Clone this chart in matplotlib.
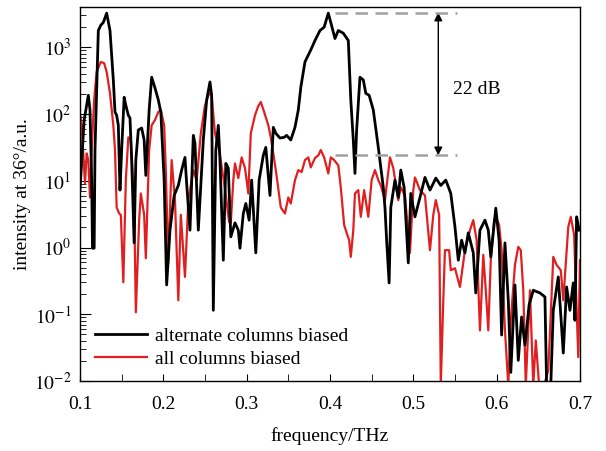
import matplotlib
matplotlib.use("Agg")
import matplotlib.pyplot as plt
import numpy as np
from matplotlib.ticker import MultipleLocator, LogLocator, NullFormatter

plt.rcParams['font.family'] = ['Liberation Serif', 'DejaVu Serif']
plt.rcParams['mathtext.fontset'] = 'stix'

# frequency (THz) and log10(intensity) of "alternate columns biased"
black_freq = [0.100, 0.105, 0.110, 0.112, 0.114, 0.115, 0.117, 0.118, 0.122, 0.125, 0.128, 0.132,
              0.136, 0.140, 0.142, 0.144, 0.146, 0.148, 0.150, 0.153, 0.155, 0.158, 0.160, 0.162,
              0.165, 0.167, 0.170, 0.174, 0.177, 0.179, 0.183, 0.186, 0.190, 0.194, 0.197, 0.201,
              0.204, 0.208, 0.213, 0.218, 0.222, 0.226, 0.228, 0.232, 0.236, 0.238, 0.242, 0.244,
              0.248, 0.252, 0.256, 0.258, 0.260, 0.263, 0.266, 0.268, 0.272, 0.275, 0.278, 0.281,
              0.286, 0.290, 0.292, 0.296, 0.299, 0.303, 0.306, 0.311, 0.315, 0.320, 0.323, 0.328,
              0.332, 0.335, 0.340, 0.345, 0.348, 0.353, 0.358, 0.362, 0.365, 0.370, 0.377, 0.382,
              0.388, 0.393, 0.398, 0.401, 0.406, 0.410, 0.416, 0.422, 0.425, 0.428, 0.430, 0.432,
              0.436, 0.440, 0.443, 0.447, 0.452, 0.458, 0.464, 0.466, 0.468, 0.471, 0.473, 0.478,
              0.482, 0.485, 0.489, 0.494, 0.497, 0.502, 0.508, 0.514, 0.520, 0.524, 0.527, 0.533,
              0.539, 0.545, 0.550, 0.554, 0.558, 0.562, 0.566, 0.572, 0.575, 0.580, 0.586, 0.590,
              0.593, 0.599, 0.603, 0.606, 0.610, 0.614, 0.617, 0.622, 0.626, 0.630, 0.634, 0.639,
              0.644, 0.652, 0.658, 0.660, 0.665, 0.668, 0.674, 0.680, 0.684, 0.688, 0.692, 0.694,
              0.696, 0.699]
black_log = [0.86, 1.91, 2.28, 2.06, 1.01, -0.01, -0.01, 1.46, 3.25, 3.33, 3.37, 3.51,
             3.25, 2.51, 2.03, 1.98, 1.83, 0.86, 1.46, 2.25, 2.13, 1.98, 1.94, 1.31,
             0.07, 1.31, 1.76, 1.79, 1.61, 1.08, 2.06, 2.55, 2.39, 2.21, 2.03, 1.01,
             -0.56, 0.26, 0.78, 0.93, 1.16, 1.35, 0.96, 0.26, 1.68, 1.56, 0.26, 0.71,
             1.61, 2.21, 2.48, 2.28, -0.94, 1.46, 1.83, 1.31, -0.19, 1.26, 1.19, 0.16,
             0.37, 0.26, -0.01, 0.51, 0.66, 0.41, 1.01, -0.08, 1.01, 1.38, 1.50, 0.78,
             1.80, 1.71, 1.64, 1.65, 1.68, 1.61, 1.80, 2.06, 2.40, 2.78, 2.96, 3.10,
             3.25, 3.30, 3.51, 3.37, 3.13, 3.25, 3.21, 3.10, 2.21, 1.61, 1.11, 1.76,
             2.55, 2.51, 2.31, 2.28, 2.06, 1.50, 0.90, 0.60, 0.11, -0.53, 0.60, 1.01,
             0.75, 1.16, 0.90, -0.23, 0.81, 0.46, 0.75, 1.05, 0.86, 0.96, 1.04, 0.93,
             1.01, 0.81, 0.31, -0.19, 0.11, -0.08, 0.22, -0.08, -0.68, 0.26, 0.41, 0.26,
             -0.14, 0.59, 0.11, -1.31, 0.07, -0.79, -1.87, -0.56, -1.69, -1.04, -1.46, -0.86,
             -0.64, -0.68, -0.74, -2.06, -2.06, -0.94, -0.44, -1.58, -0.59, -0.94, -0.53, -1.09,
             0.46, 0.26]

# frequency (THz) and log10(intensity) of "all columns biased"
red_freq = [0.100, 0.102, 0.105, 0.106, 0.108, 0.110, 0.112, 0.114, 0.117, 0.120, 0.125, 0.129,
            0.132, 0.136, 0.140, 0.142, 0.144, 0.147, 0.149, 0.152, 0.155, 0.158, 0.161, 0.165,
            0.167, 0.171, 0.173, 0.177, 0.179, 0.183, 0.186, 0.190, 0.194, 0.197, 0.201, 0.203,
            0.206, 0.210, 0.214, 0.218, 0.221, 0.226, 0.230, 0.236, 0.240, 0.245, 0.250, 0.255,
            0.258, 0.262, 0.267, 0.272, 0.275, 0.279, 0.281, 0.284, 0.286, 0.290, 0.294, 0.298,
            0.302, 0.305, 0.310, 0.314, 0.317, 0.321, 0.326, 0.329, 0.335, 0.341, 0.346, 0.350,
            0.353, 0.358, 0.362, 0.366, 0.370, 0.374, 0.377, 0.382, 0.386, 0.389, 0.393, 0.398,
            0.401, 0.405, 0.410, 0.413, 0.417, 0.420, 0.423, 0.425, 0.428, 0.430, 0.434, 0.437,
            0.441, 0.446, 0.450, 0.454, 0.458, 0.461, 0.466, 0.472, 0.476, 0.482, 0.485, 0.490,
            0.496, 0.500, 0.502, 0.508, 0.514, 0.520, 0.524, 0.527, 0.531, 0.533, 0.536, 0.538,
            0.543, 0.545, 0.550, 0.556, 0.562, 0.568, 0.572, 0.576, 0.580, 0.584, 0.587, 0.590,
            0.593, 0.597, 0.599, 0.603, 0.606, 0.610, 0.614, 0.617, 0.622, 0.626, 0.629, 0.632,
            0.635, 0.640, 0.644, 0.647, 0.651, 0.657, 0.662, 0.668, 0.672, 0.677, 0.680, 0.686,
            0.689, 0.693, 0.698, 0.700]
red_log = [2.01, 1.83, 1.16, 0.96, 1.41, 1.31, 0.75, 1.46, 2.21, 2.63, 2.78, 2.76,
           2.63, 2.31, 1.83, 1.46, 0.60, 0.51, 0.49, -0.52, 1.01, 1.65, 1.61, 0.71,
           -0.97, 0.41, 0.81, 0.49, -0.16, 1.46, 1.83, 1.91, 2.03, 2.06, 1.83, 1.16,
           -0.23, 1.31, 0.71, -0.79, 0.49, -0.44, 0.71, 1.16, 1.01, 1.71, 2.13, 2.31,
           2.28, 1.71, 1.46, 1.05, 0.78, 0.38, 0.37, 1.01, 1.26, 1.04, 1.35, 1.19,
           0.81, 1.71, 1.98, 2.12, 2.18, 2.03, 1.83, 1.65, 1.16, 0.60, 0.51, 0.75,
           0.66, 1.01, 1.16, 1.13, 1.31, 1.35, 1.20, 1.34, 1.38, 1.46, 1.35, 1.11,
           1.35, 1.31, 1.23, 0.90, 0.34, 0.22, 0.11, -0.14, 0.26, 0.81, 0.86, 0.46,
           0.86, 0.46, 1.01, 1.16, 1.01, 0.93, 0.71, 1.35, 1.19, 0.71, 0.90, 0.78,
           -0.08, 0.86, 1.05, 0.86, 0.78, -0.04, 0.49, 0.71, 0.49, -2.06, -0.79, -0.04,
           -0.04, -0.34, -0.31, -0.59, -0.04, 0.26, 0.41, 0.11, -1.24, -0.11, -0.64, -1.24,
           -0.19, 0.41, 0.46, 0.34, -0.04, -1.24, -2.06, -1.09, -0.26, 0.01, -0.04, -0.64,
           -2.06, -0.64, -2.06, -1.39, -2.06, -2.06, -1.84, -0.14, -0.26, -0.34, -0.79, 0.31,
           0.46, 0.19, -1.64, -0.19]

x_ticks = [0.1, 0.2, 0.3, 0.4, 0.5, 0.6, 0.7]
y_ticks = [1e-2, 1e-1, 1e0, 1e1, 1e2, 1e3]

# annotation levels
peak_level = 3300
floor_level = 24
dash_start = 0.406
dash_end = 0.553
arrow_freq = 0.530

fig = plt.figure(figsize=(6.06, 4.51), dpi=100)
ax = fig.add_axes([0.132, 0.155, 0.825, 0.8295])

ax.plot(black_freq, 10 ** np.array(black_log), color='black', lw=2.0, label='alternate columns biased',
        zorder=3, solid_joinstyle='round')
ax.plot(red_freq, 10 ** np.array(red_log), color='#e02020', lw=1.6, label='all columns biased',
        zorder=2, solid_joinstyle='round')

ax.set_yscale('log')
ax.set_xlim(0.1, 0.7)
ax.set_ylim(1e-2, 4000)
ax.set_xticks(x_ticks)
ax.set_xticklabels([f"{v:.1f}" for v in x_ticks])
ax.xaxis.set_minor_locator(MultipleLocator(0.05))
ax.set_yticks(y_ticks)
ax.set_yticklabels([r"$10^{%d}$" % int(np.log10(v)) for v in y_ticks])
ax.yaxis.set_minor_locator(LogLocator(base=10, subs=np.arange(2, 10)))
ax.yaxis.set_minor_formatter(NullFormatter())
ax.tick_params(axis='both', which='both', direction='in', top=False, right=False, labelsize=14)
ax.tick_params(axis='x', which='both', length=5, pad=11)
ax.tick_params(axis='y', which='major', length=8, pad=6)
ax.tick_params(axis='y', which='minor', length=4)
for s in ax.spines.values():
    s.set_linewidth(1.0)

ax.set_xlabel('frequency/THz', fontsize=14, labelpad=10)
ax.set_ylabel('intensity at 36°/a.u.', fontsize=14, labelpad=2)

ax.hlines([peak_level, floor_level], dash_start, dash_end, colors='#a0a0a0', linestyles=(0, (5, 3)), lw=1.8, zorder=4)
ax.annotate('', xy=(arrow_freq, peak_level), xytext=(arrow_freq, floor_level),
            arrowprops=dict(arrowstyle='<|-|>', color='black', lw=1.0, mutation_scale=12, shrinkA=0, shrinkB=0))
ax.text(0.548, 230, '22 dB', fontsize=14, va='center', ha='left')

ax.legend(loc='lower left', bbox_to_anchor=(0.03, 0.035), frameon=False, fontsize=14,
          handlelength=2.7, handletextpad=0.4, labelspacing=0.3, borderpad=0, borderaxespad=0)

fig.savefig('out.png', dpi=100)
